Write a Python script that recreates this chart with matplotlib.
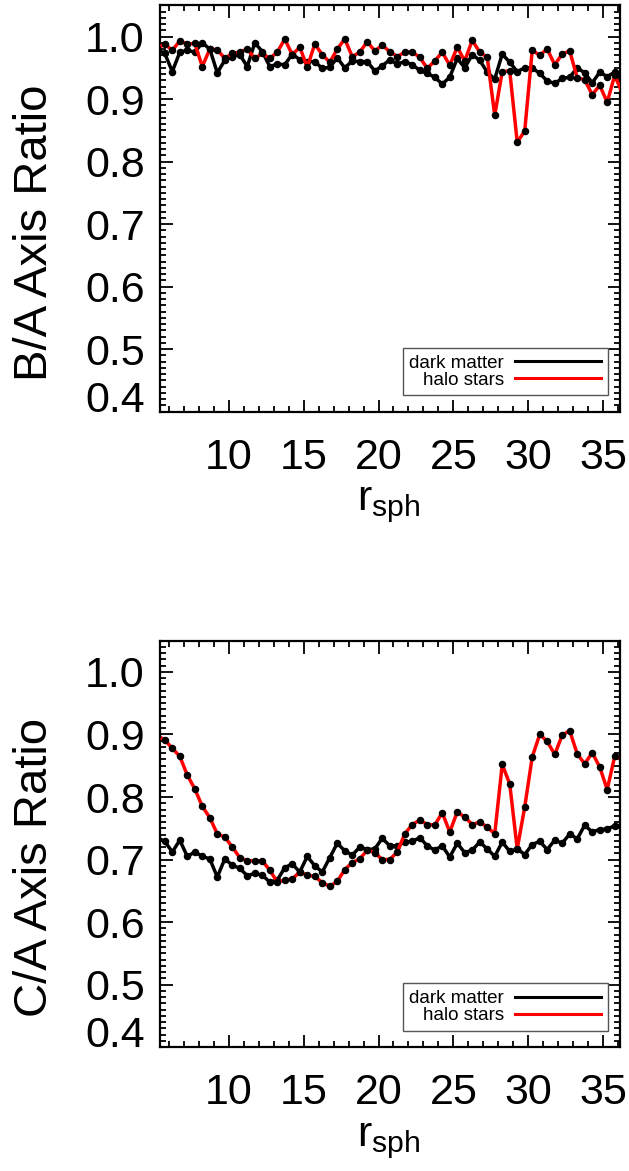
import matplotlib
matplotlib.use('Agg')
import matplotlib.pyplot as plt
from matplotlib.lines import Line2D
from matplotlib.ticker import MultipleLocator

plt.rcParams['font.family'] = ['Liberation Sans', 'DejaVu Sans']
plt.rcParams['mathtext.fontset'] = 'custom'
plt.rcParams['mathtext.rm'] = 'Liberation Sans'

# radial bins (r_sph)
r = [5.25, 5.75, 6.25, 6.75, 7.25, 7.75, 8.25, 8.75, 9.25, 9.75,
     10.25, 10.75, 11.25, 11.75, 12.25, 12.75, 13.25, 13.75, 14.25, 14.75,
     15.25, 15.75, 16.25, 16.75, 17.25, 17.75, 18.25, 18.75, 19.25, 19.75,
     20.25, 20.75, 21.25, 21.75, 22.25, 22.75, 23.25, 23.75, 24.25, 24.75,
     25.25, 25.75, 26.25, 26.75, 27.25, 27.75, 28.25, 28.75, 29.25, 29.75,
     30.25, 30.75, 31.25, 31.75, 32.25, 32.75, 33.25, 33.75, 34.25, 34.75,
     35.25, 35.75, 36.25]

# B/A
ba_dm = [0.979, 0.973, 0.944, 0.975, 0.978, 0.975, 0.990, 0.980, 0.942, 0.962,
         0.968, 0.971, 0.952, 0.990, 0.976, 0.952, 0.956, 0.955, 0.972, 0.963,
         0.960, 0.960, 0.949, 0.951, 0.966, 0.950, 0.961, 0.960, 0.960, 0.945,
         0.953, 0.963, 0.956, 0.960, 0.955, 0.946, 0.941, 0.935, 0.924, 0.935,
         0.965, 0.950, 0.971, 0.962, 0.943, 0.932, 0.972, 0.959, 0.944, 0.950,
         0.950, 0.941, 0.929, 0.925, 0.933, 0.935, 0.950, 0.942, 0.926, 0.943,
         0.936, 0.943, 0.930]
ba_halo = [0.981, 0.988, 0.978, 0.993, 0.988, 0.989, 0.952, 0.980, 0.979, 0.965,
           0.973, 0.975, 0.980, 0.965, 0.973, 0.965, 0.975, 0.996, 0.971, 0.983,
           0.951, 0.988, 0.971, 0.959, 0.980, 0.996, 0.968, 0.975, 0.992, 0.977,
           0.986, 0.976, 0.968, 0.975, 0.975, 0.967, 0.949, 0.961, 0.975, 0.954,
           0.983, 0.961, 0.994, 0.975, 0.967, 0.874, 0.944, 0.945, 0.831, 0.849,
           0.978, 0.970, 0.980, 0.955, 0.972, 0.977, 0.934, 0.931, 0.907, 0.922,
           0.895, 0.938, 0.910]

# C/A
ca_dm = [0.735, 0.729, 0.712, 0.731, 0.705, 0.712, 0.705, 0.701, 0.672, 0.701,
         0.691, 0.686, 0.674, 0.678, 0.675, 0.664, 0.667, 0.687, 0.693, 0.680,
         0.705, 0.690, 0.680, 0.703, 0.726, 0.714, 0.707, 0.720, 0.716, 0.717,
         0.734, 0.722, 0.722, 0.728, 0.729, 0.735, 0.722, 0.715, 0.722, 0.704,
         0.726, 0.711, 0.715, 0.728, 0.717, 0.705, 0.728, 0.713, 0.717, 0.708,
         0.724, 0.729, 0.716, 0.731, 0.726, 0.741, 0.733, 0.755, 0.744, 0.748,
         0.749, 0.754, 0.755]
ca_halo = [0.898, 0.891, 0.878, 0.865, 0.835, 0.813, 0.785, 0.767, 0.741, 0.736,
           0.720, 0.703, 0.698, 0.698, 0.698, 0.683, 0.664, 0.667, 0.669, 0.680,
           0.675, 0.673, 0.663, 0.657, 0.665, 0.684, 0.695, 0.701, 0.715, 0.711,
           0.700, 0.700, 0.712, 0.741, 0.756, 0.763, 0.756, 0.755, 0.775, 0.744,
           0.776, 0.768, 0.756, 0.760, 0.752, 0.741, 0.852, 0.821, 0.717, 0.784,
           0.864, 0.900, 0.889, 0.868, 0.899, 0.906, 0.869, 0.853, 0.871, 0.848,
           0.812, 0.865, 0.860]

yticks = [0.4, 0.5, 0.6, 0.7, 0.8, 0.9, 1.0]
xticks = [10, 15, 20, 25, 30, 35]

W, H = 629, 1171
fig = plt.figure(figsize=(W / 100, H / 100), dpi=100)


def panel(top_px, dm, halo, ylab):
    ax = fig.add_axes([160 / W, 1 - (top_px + 406.4) / H, 459.5 / W, 406.4 / H])
    ax.plot(r, dm, color='black', lw=2.5, marker='o', ms=4.4, mfc='black', mec='black', zorder=3)
    ax.plot(r, halo, color='red', lw=2.5, zorder=4)
    ax.plot(r, halo, ls='none', marker='o', ms=4.4, mfc='black', mec='black', zorder=5)
    ax.set_xlim(5.43, 36.07)
    ax.set_ylim(0.4, 1.05)
    ax.set_xticks(xticks)
    ax.set_yticks(yticks)
    ax.set_yticklabels(['%.1f' % v for v in yticks])
    ax.xaxis.set_minor_locator(MultipleLocator(1))
    ax.yaxis.set_minor_locator(MultipleLocator(0.01))
    ax.tick_params(which='both', direction='in', top=True, right=True, width=1.3, colors='black')
    ax.tick_params(which='major', length=9)
    ax.tick_params(which='minor', length=4.5)
    ax.tick_params(axis='x', labelsize=31, pad=19)
    ax.tick_params(axis='y', labelsize=31, pad=11)
    ax.get_yticklabels()[0].set_va('baseline')
    for s in ax.spines.values():
        s.set_linewidth(1.6)
    handles = [Line2D([], [], color='black', lw=2.2), Line2D([], [], color='red', lw=2.2)]
    leg = ax.legend(handles, ['dark matter', 'halo stars'], loc='lower right',
                    bbox_to_anchor=(0.975, 0.04), borderaxespad=0, markerfirst=False,
                    fontsize=13.5, handlelength=4.6, handletextpad=0.6, labelspacing=0.0,
                    borderpad=0.35, fancybox=False, framealpha=1)
    leg.get_frame().set_edgecolor('#555555')
    leg.get_frame().set_linewidth(1.0)
    fig.text(35 / W, 1 - (top_px + 227) / H, ylab, rotation=90, fontsize=34,
             ha='center', va='center')
    fig.text(389 / W, 1 - (top_px + 500) / H, r'$\mathregular{r_{sph}}$', fontsize=31,
             ha='center', va='center')
    return ax


panel(5.3, ba_dm, ba_halo, 'B/A Axis Ratio')
panel(640.7, ca_dm, ca_halo, 'C/A Axis Ratio')

fig.savefig('out.png', dpi=100)
